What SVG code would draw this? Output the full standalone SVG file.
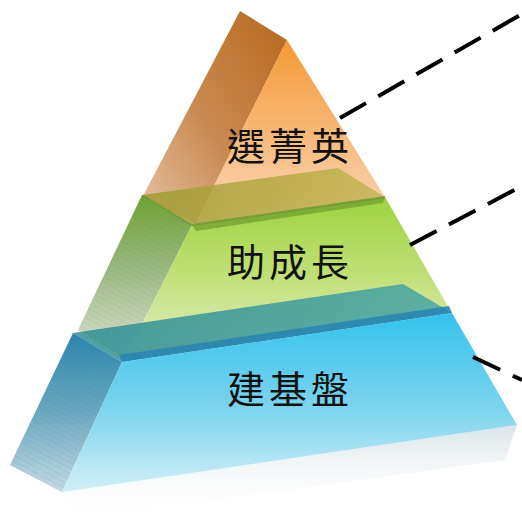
<svg xmlns="http://www.w3.org/2000/svg" width="522" height="520" viewBox="0 0 522 520">
  <defs>
    <linearGradient id="oLeft" x1="1" y1="0" x2="0" y2="1">
      <stop offset="0" stop-color="#b8681e"/>
      <stop offset="0.55" stop-color="#c98a52"/>
      <stop offset="1" stop-color="#e6c2a4"/>
    </linearGradient>
    <linearGradient id="oFront" x1="0" y1="0" x2="0" y2="1">
      <stop offset="0" stop-color="#f39a34"/>
      <stop offset="0.5" stop-color="#f7b878"/>
      <stop offset="1" stop-color="#fad8bc"/>
    </linearGradient>
    <linearGradient id="gTop" x1="0" y1="0" x2="1" y2="0">
      <stop offset="0" stop-color="#9c9a2e"/>
      <stop offset="1" stop-color="#c4b452"/>
    </linearGradient>
    <linearGradient id="gLeft" x1="0" y1="0" x2="0" y2="1">
      <stop offset="0" stop-color="#6ea232"/>
      <stop offset="0.45" stop-color="#9ab880"/>
      <stop offset="1" stop-color="#dde2d6"/>
    </linearGradient>
    <linearGradient id="gFront" x1="0" y1="0" x2="0" y2="1">
      <stop offset="0" stop-color="#9ed23e"/>
      <stop offset="0.5" stop-color="#c2e07a"/>
      <stop offset="1" stop-color="#e2ecc6"/>
    </linearGradient>
    <linearGradient id="bTop" x1="0" y1="0" x2="1" y2="0">
      <stop offset="0" stop-color="#2e8c92"/>
      <stop offset="1" stop-color="#4aa6a2"/>
    </linearGradient>
    <linearGradient id="bLeft" x1="0" y1="0" x2="0" y2="1">
      <stop offset="0" stop-color="#2a86ae"/>
      <stop offset="0.5" stop-color="#6aa8c0"/>
      <stop offset="1" stop-color="#c4dae2"/>
    </linearGradient>
    <linearGradient id="bFront" x1="0" y1="0" x2="0" y2="1">
      <stop offset="0" stop-color="#34c2ec"/>
      <stop offset="0.55" stop-color="#7fd4ee"/>
      <stop offset="1" stop-color="#d2f0f6"/>
    </linearGradient>
    <linearGradient id="refl" x1="0" y1="0" x2="0" y2="1">
      <stop offset="0" stop-color="#cfdde2" stop-opacity="0.8"/>
      <stop offset="1" stop-color="#ffffff" stop-opacity="0"/>
    </linearGradient>
    <pattern id="stripes" width="6" height="5" patternUnits="userSpaceOnUse" patternTransform="rotate(28)">
      <line x1="0" y1="0" x2="6" y2="0" stroke="#5a6a70" stroke-width="0.7" stroke-opacity="0.45"/>
    </pattern>
  </defs>
  <style>
    .lbl { font-family: "Noto Sans CJK TC", "Noto Sans CJK SC", sans-serif; font-size: 38px; fill: #111; text-anchor: middle; letter-spacing: 4px; }
    .dash { fill: none; stroke: #000; stroke-width: 4; stroke-dasharray: 30 14; }
  </style>
  <rect width="522" height="520" fill="#ffffff"/>

  <!-- reflection -->
  <polygon points="62,492 517,425 505,460 70,520" fill="url(#refl)"/>

  <g id="layer-top">
    <polygon points="240,11 287,40 195,224 143,196" fill="url(#oLeft)"/>
    <polygon points="287,40 385,197 195,224" fill="url(#oFront)"/>
  </g>

  <g id="layer-middle">
    <polygon points="142,195 338,168 385,197 192,225" fill="url(#gTop)" fill-opacity="0.82"/>
    <polygon points="142,195 192,225 125,358 78,330" fill="url(#gLeft)"/>
    <polygon points="142,195 192,225 125,358 78,330" fill="url(#stripes)" opacity="0.6"/>
    <polygon points="192,225 385,197 450,310 125,358" fill="url(#gFront)"/>
    <polygon points="192,225 385,197 383,203 196,231" fill="#6e9c2e" opacity="0.7"/>
    <polyline points="142,195 192,225 385,197" fill="none" stroke="#5e8e28" stroke-width="2" opacity="0.6"/>
    <text class="lbl" x="290" y="276">助成長</text>
  </g>

  <g id="layer-bottom">
    <polygon points="73,333 403,284 452,313 122,362" fill="url(#bTop)" fill-opacity="0.85"/>
    <polygon points="122,362 452,313 449,306 119,355" fill="#2a86b2" opacity="0.9"/>
    <polygon points="73,333 122,362 62,492 10,465" fill="url(#bLeft)"/>
    <polygon points="73,333 122,362 62,492 10,465" fill="url(#stripes)" opacity="0.7"/>
    <polygon points="122,362 452,313 517,425 62,492" fill="url(#bFront)"/>
    <text class="lbl" x="290" y="403">建基盤</text>
  </g>

  <text class="lbl" x="290" y="160" id="label-top">選菁英</text>

  <g id="connectors">
    <line class="dash" x1="340" y1="118" x2="522" y2="14"/>
    <line class="dash" x1="410" y1="245" x2="522" y2="186"/>
    <line class="dash" x1="473" y1="357" x2="522" y2="380"/>
  </g>
</svg>
